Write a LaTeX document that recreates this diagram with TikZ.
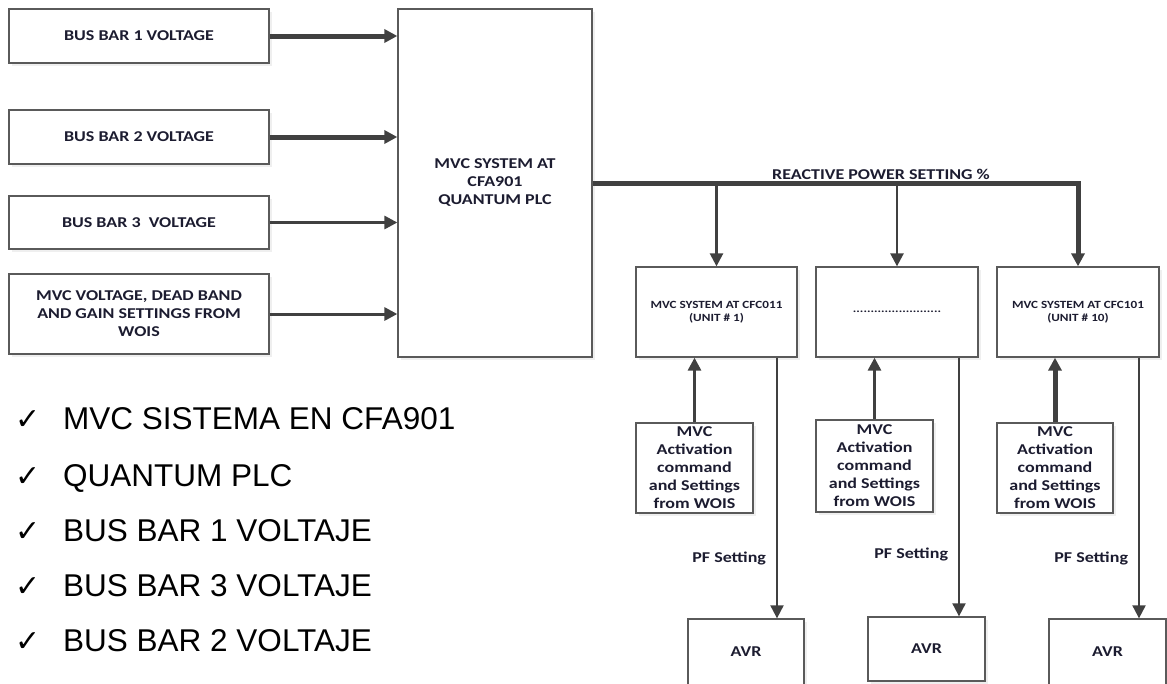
\documentclass[tikz,border=0pt]{standalone}
\usepackage{fontspec}
\setmainfont{Carlito}[FakeStretch=1.2]
\newfontfamily\arialfont{Liberation Sans}
\newfontfamily\tickfont{DejaVu Sans}
\usetikzlibrary{arrows.meta,shadows}
\definecolor{ln}{HTML}{404040}
\definecolor{bd}{HTML}{5A5A5A}
\definecolor{tx}{HTML}{1C1C30}

\begin{document}
\begin{tikzpicture}[x=1pt,y=-1pt,>={Triangle[length=13pt,width=13pt]},
  font=\fontsize{15}{18}\selectfont\bfseries,text=tx,
  b/.style={draw=bd,line width=1.3pt,fill=white,align=center,inner sep=0pt,
    drop shadow={shadow xshift=2.5pt,shadow yshift=-2.5pt,fill=black!12}},
  src/.style={b,minimum width=260pt,minimum height=54pt},
  u/.style={b,minimum width=161pt,minimum height=90pt,font=\fontsize{11}{13}\selectfont\bfseries},
  w/.style={b,minimum width=117pt,minimum height=90pt},
  avr/.style={b,minimum width=117pt,minimum height=66pt},
  heavy/.style={->,draw=ln,line width=5pt},
  mid/.style={->,draw=ln,line width=3pt},
  thin/.style={->,draw=ln,line width=2pt},
  pf/.style={left=10pt,inner sep=0pt},
  li/.style={anchor=base west,inner sep=0pt,text=black,font=\arialfont\fontsize{31.5}{31}\selectfont},
  ck/.style={anchor=base west,inner sep=0pt,text=black,font=\tickfont\fontsize{30}{30}\selectfont}]
  \clip (0,0) rectangle (1167,683);
  % inputs and central plc
  \node[src](bb1) at (139,36) {BUS BAR 1 VOLTAGE};
  \node[src](bb2) at (139,137) {BUS BAR 2 VOLTAGE};
  \node[src,minimum height=53pt](bb3) at (139,222.5) {BUS BAR 3\ \ VOLTAGE};
  \node[src,minimum height=80pt](set) at (139,314) {MVC VOLTAGE, DEAD BAND\\AND GAIN SETTINGS FROM\\WOIS};
  \node[b,minimum width=194pt,minimum height=348pt](plc) at (495,183) {MVC SYSTEM AT\\CFA901\\QUANTUM PLC};
  \draw[heavy](bb1)--(bb1 -| plc.west);\draw[heavy](bb2)--(bb2 -| plc.west);
  \draw[mid](bb3)--(bb3 -| plc.west);\draw[mid](set)--(set -| plc.west);
  % unit row
  \node[u](ua) at (716.5,312) {MVC SYSTEM AT CFC011\\(UNIT \# 1)};
  \node[u,minimum width=162pt](ub) at (897,312) {.........................};
  \node[u,minimum width=162pt](uc) at (1078,312) {MVC SYSTEM AT CFC101\\(UNIT \# 10)};
  \draw[heavy](plc.east)-|(uc.north);
  \draw[mid,line width=2.5pt](ua.north |- plc.east)--(ua);
  \draw[mid,line width=2.5pt](ub.north |- plc.east)--(ub);
  \node(rps) at (881,174) {REACTIVE POWER SETTING \%};
  % wois commands
  \node[w](wa) at (694.5,468) {MVC\\Activation\\command\\and Settings\\from WOIS};
  \node[w,minimum height=92pt](wb) at (874.5,466) {MVC\\Activation\\command\\and Settings\\from WOIS};
  \node[w,minimum width=116pt](wc) at (1055,468) {MVC\\Activation\\command\\and Settings\\from WOIS};
  \draw[mid](wa)--(wa |- ua.south);\draw[mid](wb)--(wb |- ub.south);\draw[heavy](wc)--(wc |- uc.south);
  % avr row
  \node[avr,minimum width=116pt](avra) at (746,652) {AVR};
  \node[avr,minimum height=64pt](avrb) at (926.5,649) {AVR};
  \node[avr](avrc) at (1107.5,652) {AVR};
  \coordinate(pa) at ([xshift=31pt]avra.north);
  \coordinate(pb) at ([xshift=32.5pt]avrb.north);
  \coordinate(pc) at ([xshift=31.5pt]avrc.north);
  \draw[thin](pa |- ua.south)--(pa) node[pos=0.77,pf]{PF Setting};
  \draw[thin](pb |- ub.south)--(pb) node[pos=0.76,pf]{PF Setting};
  \draw[thin](pc |- uc.south)--(pc) node[pos=0.77,pf]{PF Setting};
  % spanish list
  \node[ck](c1) at (15,429) {✓};\node[li](l1) at (63,429) {MVC SISTEMA EN CFA901};
  \node[ck](c2) at (15,486) {✓};\node[li](l2) at (63,486) {QUANTUM PLC};
  \node[ck](c3) at (15,541) {✓};\node[li](l3) at (63,541) {BUS BAR 1 VOLTAJE};
  \node[ck](c4) at (15,596) {✓};\node[li](l4) at (63,596) {BUS BAR 3 VOLTAJE};
  \node[ck](c5) at (15,651) {✓};\node[li](l5) at (63,651) {BUS BAR 2 VOLTAJE};
\end{tikzpicture}
\end{document}
